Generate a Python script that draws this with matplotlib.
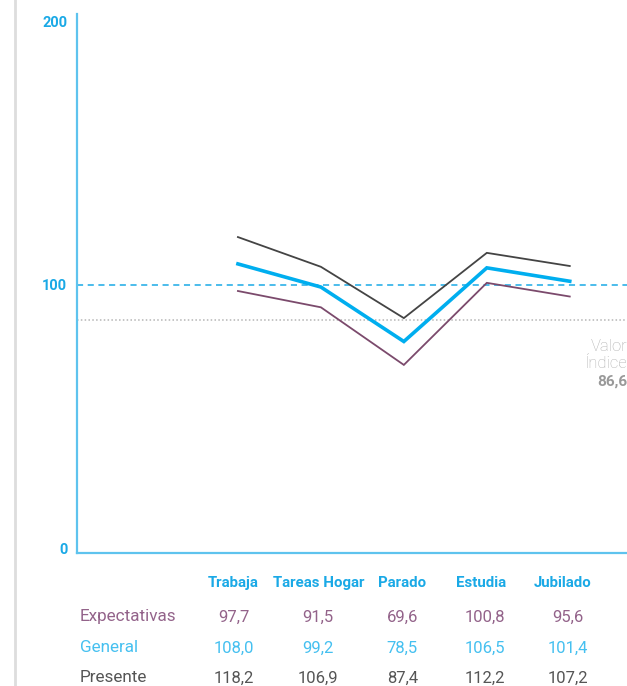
import matplotlib.pyplot as plt
import matplotlib.transforms as mtransforms
from matplotlib.lines import Line2D

categorias = ['Trabaja', 'Tareas Hogar', 'Parado', 'Estudia', 'Jubilado']
expectativas = [97.7, 91.5, 69.6, 100.8, 95.6]
general = [108.0, 99.2, 78.5, 106.5, 101.4]
presente = [118.2, 106.9, 87.4, 112.2, 107.2]
valor_indice = 86.6

series = [
    ('Expectativas', expectativas, '#7b4a6c', '#93638a', 1.3),
    ('General', general, '#00aeef', '#45c0f0', 2.6),
    ('Presente', presente, '#444444', '#555555', 1.3),
]

cian = '#1aa9e6'
plt.rcParams['font.family'] = ['Roboto', 'DejaVu Sans']

fig = plt.figure(figsize=(6.27, 6.86), dpi=100)
W, H = 627, 686
ax = fig.add_axes([77 / W, (H - 553) / H, 1 - 77 / W, (553 - 14) / H])

x = list(range(len(categorias)))
for nombre, vals, c_linea, c_texto, lw in series:
    ax.plot(x, vals, color=c_linea, linewidth=lw, solid_joinstyle='miter', zorder=3)

ax.axhline(100, color=cian, linestyle=(0, (4, 3)), linewidth=1.1, zorder=2)
ax.axhline(valor_indice, color='#b5b5b5', linestyle=(0, (1, 1.5)), linewidth=1.1, zorder=2)

ax.set_xlim(-1.94, 4.69)
ax.set_ylim(-1.9, 203)
for s in ['top', 'right']:
    ax.spines[s].set_visible(False)
for s in ['left', 'bottom']:
    ax.spines[s].set_color('#5ec3ee')
    ax.spines[s].set_linewidth(1.6)
ax.set_xticks([])
ax.set_yticks([0, 100, 200])
ax.set_yticklabels(['0', '100', '200'], fontsize=10.5, fontweight='bold', color=cian)
ax.tick_params(axis='y', length=0, pad=7)

# etiqueta del valor índice
ax.text(4.69, 73.5, 'Valor\nÍndice', ha='right', va='center', fontsize=12,
        color='#b0b0b0', fontweight='light', linespacing=1.15)
ax.text(4.69, 63.2, f'{valor_indice:.1f}'.replace('.', ','), ha='right', va='center',
        fontsize=11, color='#999999', fontweight='bold')

# tabla inferior
trans = mtransforms.blended_transform_factory(ax.transData, fig.transFigure)
cab_x = [-0.06, 0.98, 1.98, 2.93, 3.92]
val_x = [-0.05, 0.96, 1.98, 2.98, 3.98]
for xi, cat in zip(cab_x, categorias):
    fig.text(xi, (H - 583) / H, cat, transform=trans, ha='center', va='center',
             fontsize=10.8, fontweight='bold', color=cian)

filas_y = [617, 648, 678]
for (nombre, vals, c_linea, c_texto, lw), yp in zip(series, filas_y):
    fig.text(80 / W, (H - yp) / H, nombre, ha='left', va='center', fontsize=12.3,
             fontweight='normal', color=c_texto)
    for xi, v in zip(val_x, vals):
        fig.text(xi, (H - yp) / H, f'{v:.1f}'.replace('.', ','), transform=trans,
                 ha='center', va='center', fontsize=12, fontweight='normal', color=c_texto)

# línea gris vertical a la izquierda
fig.add_artist(Line2D([15 / W, 15 / W], [0, 1], transform=fig.transFigure,
                      color='#dddddd', linewidth=2))

fig.savefig('out.png', dpi=100)
